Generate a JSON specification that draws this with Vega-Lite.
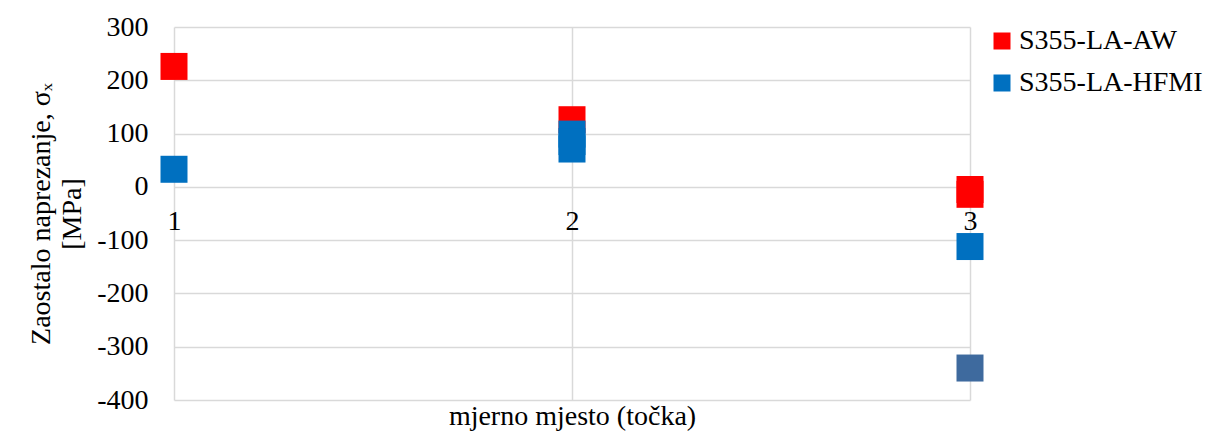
{
  "$schema": "https://vega.github.io/schema/vega-lite/v6.json",
  "width": 796,
  "height": 373,
  "autosize": "none",
  "padding": {"left": 174, "top": 27, "right": 244, "bottom": 34},
  "background": "white",
  "data": {
    "values": [
      {"tocka": 1, "sigma": 226, "serija": "S355-LA-AW"},
      {"tocka": 2, "sigma": 126, "serija": "S355-LA-AW"},
      {"tocka": 3, "sigma": -5, "serija": "S355-LA-AW"},
      {"tocka": 3, "sigma": -14, "serija": "S355-LA-AW"},
      {"tocka": 1, "sigma": 33, "serija": "S355-LA-HFMI"},
      {"tocka": 2, "sigma": 99, "serija": "S355-LA-HFMI"},
      {"tocka": 2, "sigma": 85, "serija": "S355-LA-HFMI"},
      {"tocka": 2, "sigma": 71, "serija": "S355-LA-HFMI"},
      {"tocka": 3, "sigma": -112, "serija": "S355-LA-HFMI"},
      {"tocka": 3, "sigma": -340, "serija": "S355-LA-HFMI*"}
    ]
  },
  "mark": {"type": "square", "size": 729, "opacity": 1, "filled": true},
  "encoding": {
    "x": {
      "field": "tocka",
      "type": "quantitative",
      "scale": {"domain": [1, 3], "nice": false, "zero": false},
      "axis": {
        "values": [1, 2, 3],
        "labelExpr": "'' + datum.value",
        "grid": true,
        "gridColor": "#D9D9D9",
        "gridWidth": 1.5,
        "domain": false,
        "ticks": false,
        "offset": -213,
        "labelOverlap": false,
        "labelFlush": false,
        "labelFont": "Liberation Serif",
        "labelFontSize": 28,
        "labelColor": "#000000",
        "labelPadding": 20,
        "title": "mjerno mjesto (točka)",
        "titleFont": "Liberation Serif",
        "titleFontSize": 28,
        "titleFontWeight": "normal",
        "titleColor": "#000000",
        "titleBaseline": "middle",
        "titleY": 229
      }
    },
    "y": {
      "field": "sigma",
      "type": "quantitative",
      "scale": {"domain": [-400, 300], "nice": false, "zero": false},
      "axis": {
        "values": [-400, -300, -200, -100, 0, 100, 200, 300],
        "grid": true,
        "gridColor": "#D9D9D9",
        "gridWidth": 1.5,
        "domain": false,
        "ticks": false,
        "labelOverlap": false,
        "labelFlush": false,
        "labelExpr": "'' + datum.value",
        "labelFont": "Liberation Serif",
        "labelFontSize": 28,
        "labelColor": "#000000",
        "labelPadding": 26,
        "title": ["Zaostalo naprezanje, σₓ", "[MPa]"],
        "titleFont": "Liberation Serif",
        "titleFontSize": 28,
        "titleFontWeight": "normal",
        "titleColor": "#000000",
        "titleLineHeight": 31,
        "titlePadding": 10
      }
    },
    "color": {
      "field": "serija",
      "type": "nominal",
      "scale": {
        "domain": ["S355-LA-AW", "S355-LA-HFMI", "S355-LA-HFMI*"],
        "range": ["#FF0000", "#0070C0", "#3E6A9E"]
      },
      "legend": {
        "values": ["S355-LA-AW", "S355-LA-HFMI"],
        "title": null,
        "orient": "none",
        "legendX": 814,
        "legendY": 0,
        "symbolType": "square",
        "symbolSize": 289,
        "symbolOpacity": 1,
        "labelFont": "Liberation Serif",
        "labelFontSize": 28,
        "labelColor": "#000000",
        "labelOffset": 3,
        "rowPadding": 14,
        "labelLimit": 300
      }
    }
  },
  "config": {"view": {"stroke": null}}
}
